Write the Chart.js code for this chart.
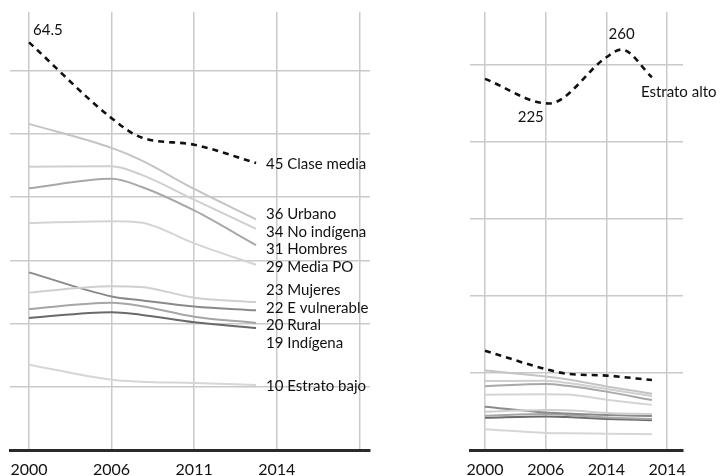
<!DOCTYPE html>
<html lang="es">
<head>
<meta charset="utf-8">
<title>Series por estrato</title>
<script src="https://cdn.jsdelivr.net/npm/chart.js@4.4.1/dist/chart.umd.min.js"></script>
<style>
  html, body { margin: 0; padding: 0; background: #fff; }
  .wrap { position: relative; width: 723px; height: 476px; }
  .panel { position: absolute; top: 0; height: 476px; }
  #left { left: 0; width: 440px; }
  #right { left: 440px; width: 283px; }
</style>
</head>
<body>
<div class="wrap">
  <div class="panel" id="left"><canvas id="leftChart"></canvas></div>
  <div class="panel" id="right"><canvas id="rightChart"></canvas></div>
</div>
<script>
// tick labels as printed (equally spaced, right panel repeats 2014)
const xTicksLeft = ["2000", "2006", "2011", "2014", ""];
const xTicksRight = ["2000", "2006", "2014", "2014"];
const yTicksLeft = [10, 20, 30, 40, 50, 60];
const yTicksRight = [50, 100, 150, 200, 250];

// position of each survey point along the tick axis (0 = first tick)
const surveyPos = [0, 1, 1.35, 2, 2.75];
const altoPos = [0, 1.05, 2, 2.25, 2.75];

const names = ["Clase media", "Urbano", "No indígena", "Hombres", "Media PO", "Mujeres", "E vulnerable", "Rural", "Indígena", "Estrato bajo"];
const endLabels = [45, 36, 34, 31, 29, 23, 22, 20, 19, 10];

const claseMedia = [64.5, 52.5, 49.5, 48.3, 45.4];
const urbano = [51.6, 47.8, 45.9, 41.3, 36.5];
const noIndigena = [44.8, 44.9, 43.6, 39.6, 35.0];
const hombres = [41.4, 42.9, 41.7, 37.9, 32.4];
const mediaPO = [35.9, 36.2, 36.0, 32.7, 29.3];
const mujeres = [24.9, 25.9, 25.8, 24.1, 23.4];
const eVulnerable = [28.1, 24.3, 23.7, 22.7, 22.1];
const rural = [22.3, 23.3, 22.8, 21.1, 20.1];
const indigena = [20.9, 21.8, 21.4, 20.2, 19.3];
const estratoBajo = [13.5, 11.1, 10.8, 10.6, 10.3];

const estratoAlto = [241, 225, 255, 260, 242];

const seriesValues = [claseMedia, urbano, noIndigena, hombres, mediaPO, mujeres, eVulnerable, rural, indigena, estratoBajo];
const seriesColors = ["#111111", "#c4c4c4", "#cfcfcf", "#a8a8a8", "#d4d4d4", "#cfcfcf", "#8a8a8a", "#a6a6a6", "#6a6a6a", "#d6d6d6"];

const labelFont = '15px Lato, "Open Sans", sans-serif';
const textColor = "#111111";

function points(pos, values) {
  return values.map((v, i) => ({ x: pos[i], y: v }));
}

function makeDatasets() {
  const sets = seriesValues.map((values, i) => ({
    label: names[i],
    data: points(surveyPos, values),
    borderColor: seriesColors[i],
    borderWidth: 2,
    pointRadius: 0,
    cubicInterpolationMode: "monotone"
  }));
  sets[0].borderWidth = 2.6;
  sets[0].borderDash = [6, 5];
  return sets;
}

// pushes overlapping labels apart, keeping each group centred on its lines
function spread(items, gap) {
  items.sort((a, b) => a.y - b.y);
  let groups = items.map((it) => ({ items: [it], top: it.y }));
  let merged = true;
  while (merged) {
    merged = false;
    for (let i = 0; i < groups.length - 1; i += 1) {
      const a = groups[i];
      const b = groups[i + 1];
      if (b.top - (a.top + (a.items.length - 1) * gap) < gap) {
        const all = a.items.concat(b.items);
        const mean = all.reduce((s, it) => s + it.y, 0) / all.length;
        groups.splice(i, 2, { items: all, top: mean - (all.length - 1) * gap / 2 });
        merged = true;
        break;
      }
    }
  }
  groups.forEach((g) => g.items.forEach((it, k) => { it.ly = g.top + k * gap; }));
  return items;
}

const leftLabels = {
  id: "leftLabels",
  afterDatasetsDraw(chart) {
    const ctx = chart.ctx;
    ctx.save();
    ctx.font = labelFont;
    ctx.fillStyle = textColor;
    ctx.textBaseline = "middle";
    ctx.textAlign = "left";
    const items = chart.data.datasets.map((ds, i) => {
      const pts = chart.getDatasetMeta(i).data;
      const last = pts[pts.length - 1];
      return { x: last.x, y: last.y, text: `${endLabels[i]} ${names[i]}` };
    });
    spread(items, 17.5).forEach((it) => ctx.fillText(it.text, it.x + 10, it.ly + 1));
    const first = chart.getDatasetMeta(0).data[0];
    ctx.fillText(String(claseMedia[0]), first.x + 4, first.y - 12);
    ctx.restore();
  }
};

const rightLabels = {
  id: "rightLabels",
  afterDatasetsDraw(chart) {
    const ctx = chart.ctx;
    const pts = chart.getDatasetMeta(0).data;
    const lo = estratoAlto.indexOf(Math.min(...estratoAlto));
    const hi = estratoAlto.indexOf(Math.max(...estratoAlto));
    const last = pts[pts.length - 1];
    ctx.save();
    ctx.font = labelFont;
    ctx.fillStyle = textColor;
    ctx.textBaseline = "middle";
    ctx.textAlign = "center";
    ctx.fillText(String(estratoAlto[lo]), pts[lo].x - 18, pts[lo].y + 14);
    ctx.fillText(String(estratoAlto[hi]), pts[hi].x, pts[hi].y - 15);
    ctx.textAlign = "left";
    ctx.fillText("Estrato alto", last.x - 11, last.y + 15);
    ctx.restore();
  }
};

function scales(xLabels, xMin, xMax, yTicks, yMax) {
  return {
    x: {
      type: "linear",
      min: xMin,
      max: xMax,
      afterBuildTicks: (s) => { s.ticks = xLabels.map((_, i) => ({ value: i })); },
      afterFit: (s) => { s.height = 26; },
      grid: { color: "#cacaca", lineWidth: 1.5, drawTicks: false },
      border: { color: "#2a2a2a", width: 3 },
      ticks: {
        autoSkip: false,
        maxRotation: 0,
        padding: 10,
        color: textColor,
        font: { family: 'Lato, "Open Sans", sans-serif', size: 16 },
        callback: (v, i) => xLabels[i]
      }
    },
    y: {
      min: 0,
      max: yMax,
      afterBuildTicks: (s) => { s.ticks = yTicks.map((v) => ({ value: v })); },
      grid: { color: "#cacaca", lineWidth: 1.5, drawTicks: false },
      border: { display: false },
      ticks: { display: false }
    }
  };
}

const baseOptions = {
  responsive: true,
  maintainAspectRatio: false,
  animation: false,
  plugins: { legend: { display: false }, tooltip: { enabled: false } }
};

new Chart(document.getElementById("leftChart"), {
  type: "line",
  data: { datasets: makeDatasets() },
  options: {
    ...baseOptions,
    layout: { padding: { left: 9, right: 70, top: 12, bottom: 0 } },
    scales: scales(xTicksLeft, -0.23, 4.13, yTicksLeft, 69.3)
  },
  plugins: [leftLabels]
});

const rightSets = makeDatasets();
rightSets.unshift({
  label: "Estrato alto",
  data: points(altoPos, estratoAlto),
  borderColor: "#111111",
  borderWidth: 2.6,
  borderDash: [6, 5],
  pointRadius: 0,
  cubicInterpolationMode: "monotone"
});

new Chart(document.getElementById("rightChart"), {
  type: "line",
  data: { datasets: rightSets },
  options: {
    ...baseOptions,
    layout: { padding: { left: 30, right: 40, top: 12, bottom: 0 } },
    scales: scales(xTicksRight, -0.247, 3.262, yTicksRight, 284.4)
  },
  plugins: [rightLabels]
});
</script>
</body>
</html>
